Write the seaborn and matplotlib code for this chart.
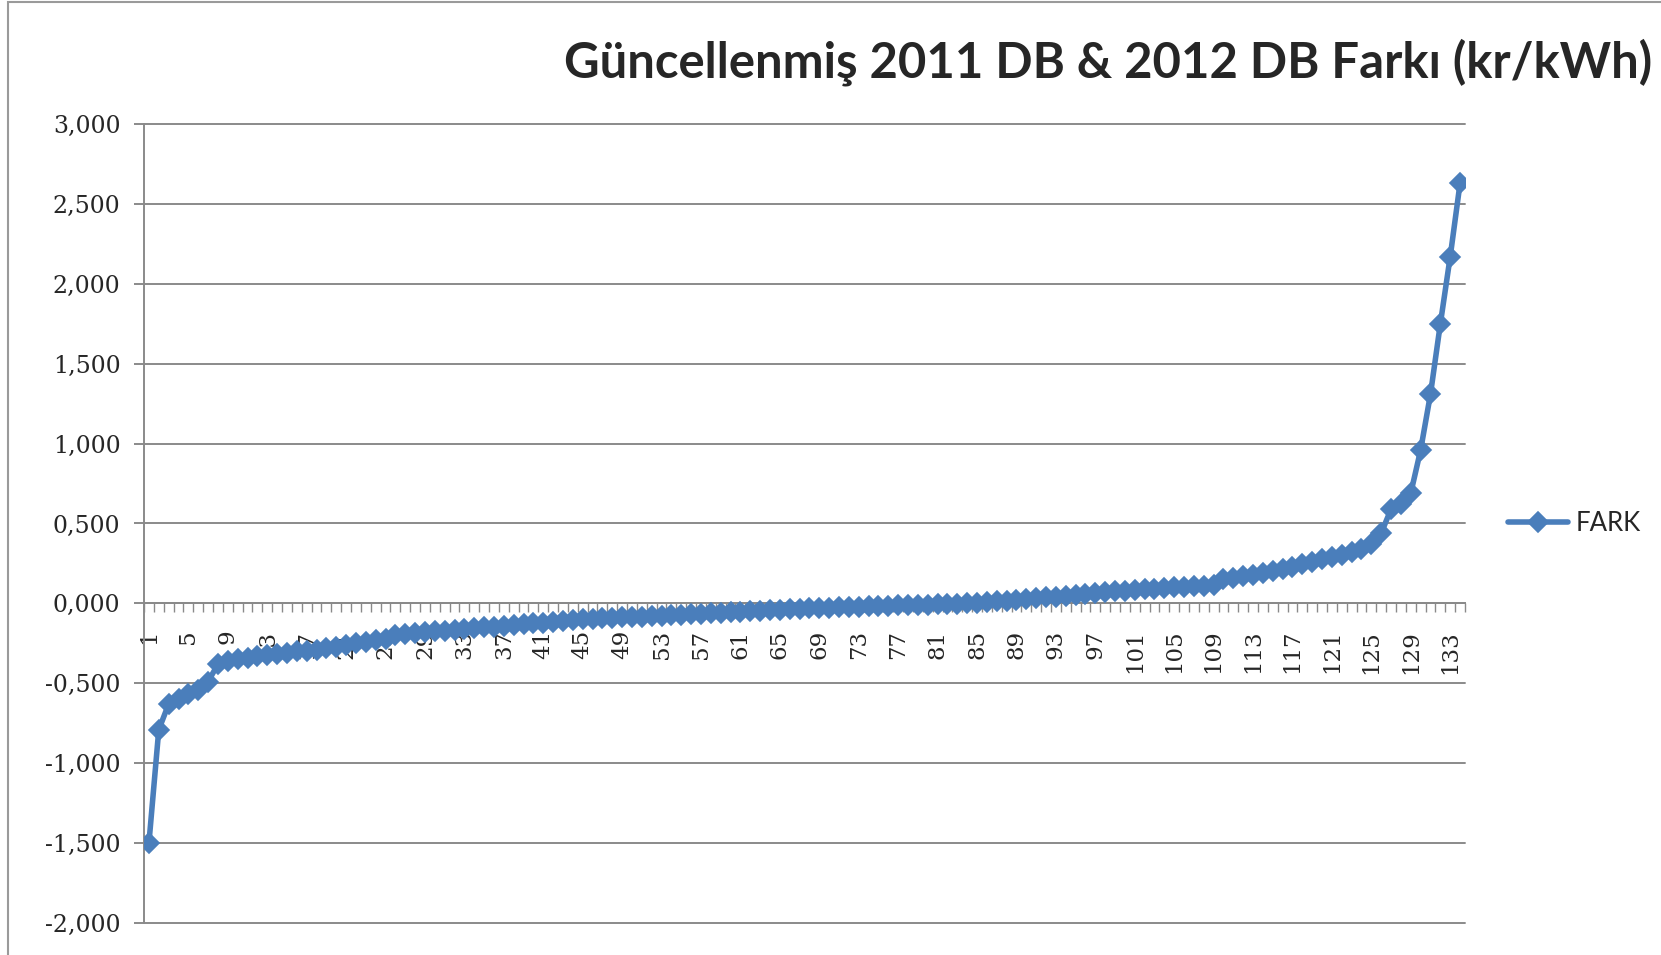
import matplotlib
matplotlib.use("Agg")
import matplotlib.pyplot as plt
from matplotlib.patches import Rectangle
import pandas as pd
import seaborn as sns

# chart data
title = "Güncellenmiş 2011 DB & 2012 DB Farkı (kr/kWh)"
series_name = "FARK"
ids = list(range(1, 135))
fark = [
    -1.50, -0.79, -0.63, -0.60, -0.57, -0.54, -0.49, -0.38, -0.36, -0.345,
    -0.34, -0.33, -0.32, -0.315, -0.31, -0.30, -0.295, -0.29, -0.28, -0.27,
    -0.26, -0.25, -0.24, -0.23, -0.22, -0.20, -0.19, -0.185, -0.18, -0.175,
    -0.17, -0.165, -0.16, -0.155, -0.15, -0.145, -0.14, -0.135, -0.13, -0.125,
    -0.12, -0.115, -0.11, -0.105, -0.10, -0.097, -0.094, -0.091, -0.088, -0.085,
    -0.082, -0.079, -0.076, -0.073, -0.070, -0.067, -0.064, -0.061, -0.058, -0.055,
    -0.052, -0.049, -0.046, -0.043, -0.040, -0.037, -0.034, -0.031, -0.029, -0.027,
    -0.025, -0.023, -0.021, -0.019, -0.017, -0.015, -0.013, -0.011, -0.009, -0.007,
    -0.005, -0.003, -0.001, 0.002, 0.005, 0.009, 0.013, 0.017, 0.022, 0.027,
    0.032, 0.037, 0.042, 0.048, 0.054, 0.060, 0.065, 0.070, 0.075, 0.080,
    0.084, 0.088, 0.092, 0.096, 0.100, 0.104, 0.108, 0.112, 0.117, 0.150,
    0.160, 0.170, 0.180, 0.190, 0.200, 0.215, 0.230, 0.245, 0.260, 0.275,
    0.290, 0.305, 0.320, 0.340, 0.370, 0.440, 0.590, 0.620, 0.690, 0.960,
    1.310, 1.750, 2.170, 2.630,
]
y_ticks = [-2.0, -1.5, -1.0, -0.5, 0.0, 0.5, 1.0, 1.5, 2.0, 2.5, 3.0]
x_labels = list(range(1, 134, 4))

W, H = 1661, 955
blue = "#4A7EBB"
gray = "#8a8a8a"
tick_font = "DejaVu Serif"

sns.set_theme(style="white")

df = pd.DataFrame({"no": ids, "fark": fark})

fig = plt.figure(figsize=(W / 100, H / 100), dpi=100)
ax = fig.add_axes([144 / W, 1 - 923 / H, (1465 - 144) / W, (923 - 124) / H])

sns.lineplot(data=df, x="no", y="fark", ax=ax, color=blue, lw=4,
             marker="D", ms=10.5, mec=blue, mew=1.2, label=series_name,
             errorbar=None, zorder=3)

ax.set_xlim(0.5, 134.5)
ax.set_ylim(-2, 3)
ax.set_xlabel("")
ax.set_ylabel("")

# axes: category axis crosses at zero
for side in ["top", "right"]:
    ax.spines[side].set_visible(False)
ax.spines["bottom"].set_position(("data", 0))
for side in ["bottom", "left"]:
    ax.spines[side].set_color(gray)
    ax.spines[side].set_linewidth(1.4)

ax.set_xticks(x_labels)
ax.set_xticklabels([str(v) for v in x_labels], rotation=90,
                   fontfamily=tick_font, fontsize=16.5)
ax.set_xticks([i + 0.5 for i in range(0, 135)], minor=True)
ax.tick_params(axis="x", which="major", length=0, pad=19)
ax.tick_params(axis="x", which="minor", bottom=True, length=6.5, width=1,
               color=gray, direction="out")

ax.set_yticks(y_ticks)
ax.set_yticklabels([f"{v:.3f}".replace(".", ",") for v in y_ticks],
                   fontfamily=tick_font, fontsize=17)
ax.tick_params(axis="y", left=True, length=7, width=1.4, color=gray,
               direction="out", pad=10)

ax.yaxis.grid(True, color=gray, lw=1.4)
ax.xaxis.grid(False)
for gl in ax.get_ygridlines():
    gl.set_clip_on(False)

ax.legend(loc="center left", bbox_to_anchor=(1508 / W, 1 - 523 / H),
          bbox_transform=fig.transFigure, frameon=False, borderpad=0,
          borderaxespad=0, handlelength=2.35, handletextpad=0.27,
          prop={"family": "Lato", "size": 18.5})

# title, scaled to the reference width
t = fig.text(1652 / W, 1 - 77 / H, title, ha="right", va="baseline",
             fontfamily="Lato", fontweight="bold", fontsize=40)
fig.canvas.draw()
w = t.get_window_extent().width
t.set_fontsize(40 * 1087 / w)

# chart frame (only left and top edges fall inside the picture)
fig.add_artist(Rectangle((7.5 / W, -0.1), 2, 1 - 2 / H + 0.1,
                         transform=fig.transFigure, fill=False,
                         ec="#9a9a9a", lw=1.5))

fig.savefig("out.png", dpi=100)
